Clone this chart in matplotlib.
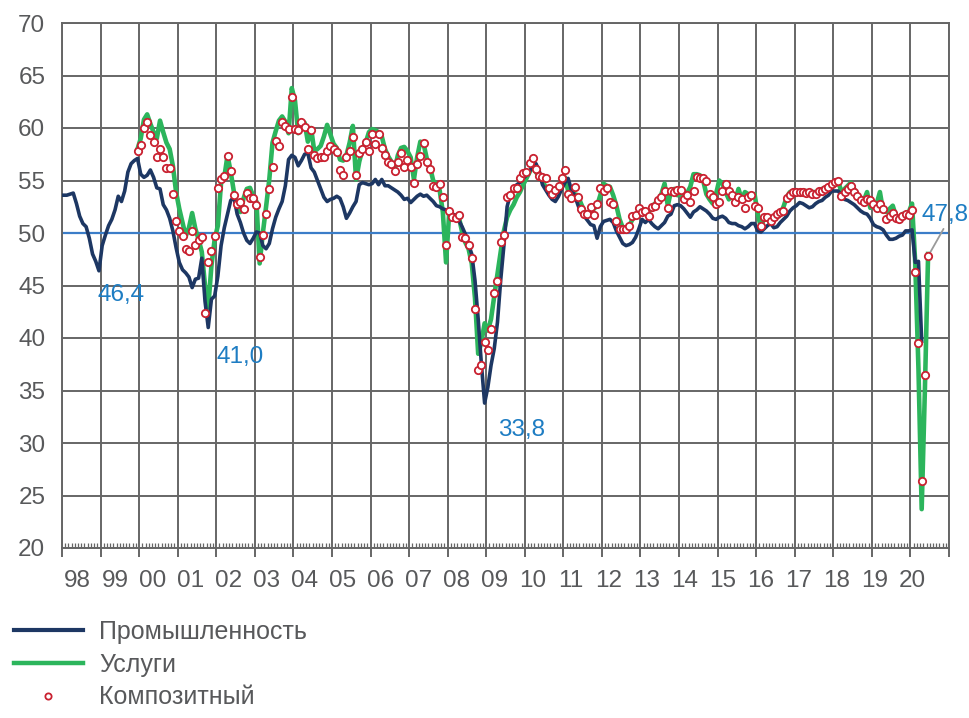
import numpy as np
import matplotlib
matplotlib.use('Agg')
import matplotlib.pyplot as plt
from matplotlib.lines import Line2D
from matplotlib.ticker import MultipleLocator, NullFormatter
import matplotlib.transforms as mtransforms

plt.rcParams['font.family'] = ['Liberation Sans', 'DejaVu Sans']

# ---- data: monthly PMI readings ----
start_year = 1998
industry_start = 0      # months after Jan 1998
services_start = 23     # Dec 1999
composite_start = 23

industry = [
    # 1998 .. Oct 2002
    53.6, 53.6, 53.7, 53.8, 52.8, 51.6, 50.9, 50.6, 49.5, 48.0, 47.3, 46.4,
    48.8, 49.8, 50.7, 51.3, 52.2, 53.5, 53.0, 54.0, 55.8, 56.6, 56.9, 57.1,
    55.6, 55.3, 55.5, 56.0, 55.3, 54.3, 54.2, 52.7, 52.2, 51.4, 50.2, 48.6,
    47.2, 46.5, 46.2, 45.8, 44.8, 45.6, 45.7, 47.6, 43.5, 41.0, 43.7, 44.0,
    45.9, 48.8, 50.5, 51.8, 53.1, 53.4, 51.8, 51.0, 50.0, 49.3,
    # Nov 2002 .. Jul 2007
    49.0, 49.5, 50.1, 50.0, 48.8, 48.5, 49.0, 50.4, 51.5, 52.3, 53.0, 54.5,
    57.0, 57.4, 57.2, 56.4, 56.9, 57.5, 57.6, 56.2, 55.8, 55.0, 54.2, 53.4,
    53.0, 53.2, 53.3, 53.5, 53.3, 52.5, 51.4, 51.9, 52.5, 53.0, 54.6, 54.8,
    54.7, 54.6, 54.7, 55.1, 54.6, 55.1, 54.5, 54.5, 54.3, 54.1, 53.9, 53.6,
    53.2, 53.3, 52.9, 53.2, 53.5, 53.7, 53.5, 53.6, 53.3,
    # Aug 2007 .. Mar 2012
    53.0, 52.6, 52.5, 52.3, 52.2, 52.1, 51.8, 51.7, 51.2, 50.6, 49.9, 48.9,
    48.0, 45.5, 41.8, 37.5, 33.8, 35.3, 37.4, 39.0, 41.5, 45.5, 48.8, 52.5,
    53.7, 54.2, 54.6, 54.8, 55.2, 55.5, 55.9, 56.3, 56.6, 55.9, 54.6, 54.1,
    53.6, 53.2, 53.0, 53.5, 54.2, 54.8, 55.2, 54.1, 53.6, 52.7, 51.9, 51.6,
    51.2, 50.8, 50.7, 49.5, 50.6, 51.1, 51.2, 51.3,
    # Apr 2012 .. Nov 2016
    51.0, 50.2, 49.6, 49.0, 48.8, 48.9, 49.1, 49.6, 50.4, 51.3, 51.0, 51.3,
    50.9, 50.6, 50.4, 50.7, 51.0, 51.6, 51.8, 52.6, 52.7, 52.6, 52.3, 51.9,
    51.5, 52.0, 52.2, 52.5, 52.3, 52.1, 51.8, 51.4, 51.3, 51.5, 51.6, 51.4,
    51.0, 50.9, 50.9, 50.7, 50.6, 50.4, 50.6, 50.9, 50.9, 50.2, 50.1, 50.4,
    50.7, 50.9, 50.5, 50.6, 51.0, 51.3, 51.6, 52.1,
    # Dec 2016 .. Apr 2020
    52.4, 52.6, 52.9, 52.8, 52.6, 52.4, 52.5, 52.8, 53.0, 53.1, 53.4, 53.6,
    54.0, 54.0, 54.0, 53.6, 53.2, 53.1, 52.9, 52.7, 52.4, 52.1, 51.9, 51.8,
    51.4, 50.8, 50.6, 50.5, 50.3, 49.8, 49.4, 49.4, 49.5, 49.7, 49.8, 50.2,
    50.2, 50.3, 47.2, 47.3, 39.7,
]

services = [
    # Dec 1999 .. Sep 2002
    58.0, 59.0, 60.8, 61.3, 60.4, 59.6, 59.0, 60.7, 59.6, 58.6, 58.0, 56.4,
    53.9, 52.3, 51.0, 49.7, 50.5, 51.9, 50.4, 49.4, 48.2, 45.0, 42.9, 46.9,
    49.4, 50.7, 54.8, 55.3, 57.4, 55.8, 53.9, 52.3, 52.0, 53.3,
    # Oct 2002 .. Feb 2007
    54.2, 54.3, 53.5, 53.0, 47.1, 50.0, 52.5, 55.1, 58.6, 59.7, 60.7, 61.1,
    60.6, 59.5, 63.8, 62.6, 59.5, 60.0, 60.5, 58.7, 60.0, 57.8, 58.0, 58.3,
    59.2, 60.3, 59.4, 58.5, 58.1, 57.0, 56.9, 57.4, 58.6, 60.2, 55.1, 56.8,
    58.0, 58.6, 59.6, 59.9, 59.8, 59.6, 59.2, 58.0, 57.3, 56.8, 56.0, 57.4,
    58.1, 58.2, 57.8, 57.2, 55.1,
    # Mar 2007 .. Mar 2012
    57.2, 58.7, 58.5, 57.1, 56.3, 55.0, 54.6, 54.1, 52.0, 47.2, 52.0, 51.5,
    51.6, 51.5, 50.1, 49.1, 48.5, 47.1, 43.8, 38.5, 39.6, 41.4, 40.7, 41.8,
    44.0, 46.1, 48.2, 50.2, 51.5, 52.2, 52.7, 53.4, 53.9, 54.6, 55.2, 55.8,
    56.4, 55.8, 55.3, 54.9, 54.4, 54.0, 53.7, 53.9, 54.5, 54.9, 55.3, 54.0,
    53.2, 53.7, 53.6, 52.8, 52.1, 51.8, 52.1, 52.3, 52.6, 53.6, 54.7, 54.5,
    54.4,
    # Apr 2012 .. Aug 2016
    53.6, 52.6, 51.3, 50.5, 50.4, 50.7, 51.3, 51.8, 52.1, 52.3, 52.0, 52.0,
    52.5, 52.8, 53.1, 53.7, 54.7, 52.6, 54.0, 54.2, 53.6, 53.7, 53.2, 53.8,
    54.4, 55.6, 55.6, 55.5, 55.0, 53.7, 53.2, 52.8, 53.7, 55.0, 54.7, 53.9,
    53.2, 53.7, 53.1, 54.2, 53.2, 53.9, 53.7, 53.5, 53.7, 51.8, 50.5, 51.5,
    51.5, 51.3, 51.3, 51.5, 51.8,
    # Sep 2016 .. Jun 2020
    52.5, 53.4, 53.9, 54.0, 54.0, 54.0, 54.0, 54.0, 53.9, 53.9, 53.9, 54.0,
    54.2, 54.3, 54.4, 54.5, 54.8, 55.0, 53.9, 54.2, 54.5, 54.8, 54.2, 53.4,
    53.4, 53.1, 53.9, 52.4, 52.6, 52.8, 53.9, 52.1, 52.0, 52.3, 52.6, 51.6,
    51.5, 51.8, 51.9, 52.0, 52.8, 47.1, 37.0, 23.7, 35.1, 48.0,
]

composite = [
    # Dec 1999 .. Sep 2002
    57.8, 58.4, 60.0, 60.6, 59.3, 58.7, 57.2, 58.0, 57.2, 56.2, 56.2, 53.7,
    51.1, 50.2, 49.7, 48.5, 48.3, 50.2, 48.9, 49.3, 49.6, 42.4, 47.2, 48.3,
    49.7, 54.3, 55.1, 55.4, 57.3, 55.9, 53.6, 52.8, 53.0, 52.3,
    # Oct 2002 .. Feb 2007
    53.8, 53.3, 53.3, 52.7, 47.7, 49.8, 51.8, 54.2, 56.3, 58.8, 58.3, 60.6,
    60.2, 59.9, 63.0, 59.9, 59.8, 60.6, 60.1, 58.0, 59.8, 57.4, 57.1, 57.2,
    57.2, 57.8, 58.3, 58.0, 57.7, 56.0, 55.5, 57.2, 57.8, 59.1, 55.5, 57.6,
    58.0, 58.7, 57.8, 59.4, 58.5, 59.4, 58.1, 57.4, 56.8, 56.6, 55.9, 56.8,
    57.6, 56.3, 57.0, 56.3, 54.8,
    # Mar 2007 .. Mar 2012
    56.6, 57.3, 58.6, 56.8, 56.1, 54.5, 54.4, 54.7, 53.4, 48.9, 52.1, 51.5,
    51.4, 51.7, 49.6, 49.5, 48.9, 47.6, 42.8, 37.0, 37.4, 39.6, 38.9, 40.9,
    44.3, 45.4, 49.1, 49.8, 53.4, 53.6, 54.3, 54.3, 55.2, 55.7, 55.8, 56.7,
    57.1, 56.1, 55.4, 55.3, 55.2, 54.3, 53.7, 54.1, 54.5, 55.2, 56.0, 53.7,
    53.3, 54.4, 53.4, 52.3, 51.8, 51.8, 52.5, 51.7, 52.8, 54.3, 54.0, 54.3,
    53.0,
    # Apr 2012 .. Nov 2016
    52.8, 51.1, 50.4, 50.4, 50.4, 50.7, 51.6, 51.7, 52.4, 52.0, 52.1, 51.6,
    52.5, 52.6, 53.1, 53.4, 54.0, 52.4, 54.0, 53.9, 54.1, 54.1, 53.2, 53.6,
    53.0, 54.0, 55.3, 55.2, 55.2, 55.0, 53.7, 53.4, 52.8, 53.0, 54.0, 54.7,
    54.0, 53.6, 53.0, 53.4, 53.2, 52.4, 53.4, 53.6, 52.6, 52.4, 50.7, 51.5,
    51.5, 51.1, 51.5, 51.8, 52.0, 52.1, 53.3, 53.6,
    # Dec 2016 .. Jun 2020
    53.9, 53.9, 53.9, 53.9, 53.8, 53.9, 53.7, 53.7, 54.0, 54.0, 54.2, 54.4,
    54.7, 54.9, 55.0, 53.5, 53.9, 54.2, 54.5, 53.9, 53.5, 53.1, 53.0, 53.2,
    53.1, 52.8, 52.4, 52.8, 52.3, 51.3, 51.6, 51.9, 51.4, 51.3, 51.6, 51.8,
    51.7, 52.2, 46.3, 39.5, 26.4, 36.5, 47.8,
]

year_labels = ['98', '99', '00', '01', '02', '03', '04', '05', '06', '07', '08',
               '09', '10', '11', '12', '13', '14', '15', '16', '17', '18', '19', '20']
series_names = ['Промышленность', 'Услуги', 'Композитный']


def month_axis(start, n):
    # mid-month position in decimal years
    return start_year + (np.arange(start, start + n) + 0.5) / 12.0


x_ind = month_axis(industry_start, len(industry))
x_srv = month_axis(services_start, len(services))
x_cmp = month_axis(composite_start, len(composite))

navy = '#1d3763'
green = '#2cb55c'
red = '#c92130'
grid_gray = '#666666'
text_gray = '#58595b'
label_blue = '#1e7dc3'
num_size = 17.5

fig = plt.figure(figsize=(9.70, 7.18), dpi=100)
ax = fig.add_axes([62 / 970, 1 - 548 / 718, (949 - 62) / 970, (548 - 23) / 718])

ax.set_xlim(1998, 2021)
ax.set_ylim(20, 70)
ax.xaxis.set_major_locator(MultipleLocator(1))
ax.xaxis.set_minor_locator(MultipleLocator(1 / 12))
ax.xaxis.set_major_formatter(NullFormatter())
ax.yaxis.set_major_locator(MultipleLocator(5))
ax.grid(True, which='major', color=grid_gray, lw=1.4, zorder=0)
ax.set_axisbelow(True)
for s in ax.spines.values():
    s.set_color(grid_gray)
    s.set_linewidth(1.4)
ax.tick_params(axis='x', which='major', direction='out', length=6.5, width=1.4, color=grid_gray)
ax.tick_params(axis='x', which='minor', direction='in', length=3.5, width=0.9, color=grid_gray)
ax.tick_params(axis='y', length=0, pad=12, labelsize=num_size, labelcolor=text_gray)

# year labels below the axis
trans = mtransforms.blended_transform_factory(ax.transData, ax.transAxes)
for pos, lab in zip(np.linspace(1998.39, 2020.05, len(year_labels)), year_labels):
    ax.text(pos, -0.062, lab, transform=trans, ha='center', va='center',
            fontsize=num_size, color=text_gray)

ax.axhline(50, color='#3b7dc8', lw=1.6, zorder=1.5)

ax.plot(x_srv, services, color=green, lw=3.3, zorder=2, solid_joinstyle='round')
ax.plot(x_ind, industry, color=navy, lw=2.6, zorder=3, solid_joinstyle='round')
ax.plot(x_cmp, composite, ls='none', marker='o', ms=5.3, mfc='white', mec=red,
        mew=1.3, zorder=4)

# minimum labels
ind = np.array(industry)
for lo, hi, dx, dy in [(0, 24, 22, -24), (36, 60, 32, -29), (120, 140, 37, -27)]:
    k = lo + int(np.argmin(ind[lo:hi]))
    ax.annotate(f'{ind[k]:.1f}'.replace('.', ','), xy=(x_ind[k], ind[k]),
                xytext=(dx * 0.72, dy * 0.72), textcoords='offset points',
                ha='center', va='center', fontsize=num_size, color=label_blue)

# last composite value with leader line
ax.annotate(f'{composite[-1]:.1f}'.replace('.', ','), xy=(x_cmp[-1], composite[-1]),
            xytext=(17 * 0.72, 30 * 0.72), textcoords='offset points',
            ha='center', va='bottom', fontsize=num_size, color=label_blue,
            annotation_clip=False,
            arrowprops=dict(arrowstyle='-', color='#9a9a9a', lw=1.3,
                            shrinkA=0, shrinkB=2, relpos=(0.5, 0)))

handles = [
    Line2D([0], [0], color=navy, lw=3),
    Line2D([0], [0], color=green, lw=3.2),
    Line2D([0], [0], ls='none', marker='o', ms=4.5, mfc='white', mec=red, mew=1.3),
]
fig.legend(handles, series_names, loc='upper left', bbox_to_anchor=(14 / 970, 1 - 620 / 718),
           frameon=False, borderpad=0, borderaxespad=0, handlelength=2.75,
           handletextpad=0.65, labelspacing=0.35, labelcolor=text_gray,
           prop={'size': 18})

fig.savefig('out.png', dpi=100)
